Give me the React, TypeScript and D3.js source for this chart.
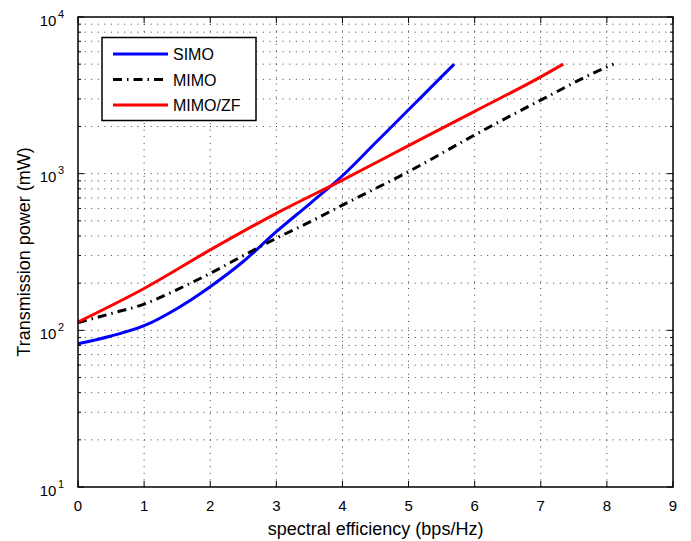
import React from "react";
import * as d3 from "d3";

const simoX = [0, 0.5, 1, 1.5, 2, 2.5, 3, 3.5, 4, 4.5, 5, 5.5, 5.69];
const simoY = [82, 92, 107, 138, 190, 275, 426, 640, 970, 1575, 2557, 4160, 5000];
const mimoX = [0, 0.5, 1, 1.5, 2, 2.5, 3, 3.5, 4, 5, 6, 7, 8, 8.1];
const mimoY = [112, 128, 147, 182, 231, 300, 387, 490, 630, 1030, 1766, 2950, 4800, 5000];
const zfX = [0, 1, 2, 3, 4, 5, 6, 7, 7.34];
const zfY = [113, 185, 326, 558, 910, 1510, 2500, 4150, 5000];

const xTicks = [0, 1, 2, 3, 4, 5, 6, 7, 8, 9];
const yExps = [1, 2, 3, 4];
const legendLabels = ["SIMO", "MIMO", "MIMO/ZF"];

const W = 691, H = 541;
const L = 78, R = 673, T = 17, B = 487;
const FONT = "'Liberation Sans', Arial, Helvetica, sans-serif";

export default function App() {
  const x = d3.scaleLinear().domain([0, 9]).range([L, R]);
  const y = d3.scaleLog().domain([10, 10000]).range([B, T]);

  const line = d3
    .line<[number, number]>()
    .x((d) => x(d[0]))
    .y((d) => y(d[1]))
    .curve(d3.curveMonotoneX);

  const zip = (a: number[], b: number[]) => a.map((v, i) => [v, b[i]] as [number, number]);

  const minorY: number[] = [];
  for (let e = 1; e < 4; e++) for (let m = 1; m <= 9; m++) minorY.push(m * Math.pow(10, e));
  minorY.push(10000);

  const series = [
    { label: legendLabels[0], d: zip(simoX, simoY), color: "#0000ff", dash: "" },
    { label: legendLabels[1], d: zip(mimoX, mimoY), color: "#000000", dash: "9,5,1.5,5" },
    { label: legendLabels[2], d: zip(zfX, zfY), color: "#ff0000", dash: "" },
  ];

  const dotted = { stroke: "#000", strokeWidth: 1, strokeDasharray: "1,5.6", opacity: 0.75 };

  return (
    <svg width={W} height={H} style={{ position: "absolute", left: 0, top: 0, background: "#fff" }}>
      <rect x={0} y={0} width={W} height={H} fill="#fff" />
      {/* grid */}
      {xTicks.slice(1, -1).map((t) => (
        <line key={"gx" + t} x1={x(t)} x2={x(t)} y1={B} y2={T} {...dotted} />
      ))}
      {minorY.filter((v) => v > 10 && v < 10000).map((v) => (
        <line key={"gy" + v} x1={L} x2={R} y1={y(v)} y2={y(v)} {...dotted} />
      ))}
      {/* ticks */}
      {xTicks.map((t) => (
        <g key={"tx" + t}>
          <line x1={x(t)} x2={x(t)} y1={B} y2={B - 6} stroke="#000" strokeWidth={1} />
          <line x1={x(t)} x2={x(t)} y1={T} y2={T + 6} stroke="#000" strokeWidth={1} />
          <text x={x(t)} y={511} textAnchor="middle" fontFamily={FONT} fontSize={15}>
            {t}
          </text>
        </g>
      ))}
      {minorY.map((v) => {
        const major = Math.abs(Math.log10(v) - Math.round(Math.log10(v))) < 1e-9;
        const len = major ? 6 : 3;
        return (
          <g key={"ty" + v}>
            <line x1={L} x2={L + len} y1={y(v)} y2={y(v)} stroke="#000" strokeWidth={1} />
            <line x1={R} x2={R - len} y1={y(v)} y2={y(v)} stroke="#000" strokeWidth={1} />
          </g>
        );
      })}
      {yExps.map((e) => (
        <text key={"yl" + e} x={64} y={y(Math.pow(10, e)) + 8.5} textAnchor="end" fontFamily={FONT} fontSize={15}>
          10
          <tspan dx={1.5} dy={-8} fontSize={11}>
            {e}
          </tspan>
        </text>
      ))}
      {/* series */}
      {series.map((s) => (
        <path
          key={s.label}
          d={line(s.d) || ""}
          fill="none"
          stroke={s.color}
          strokeWidth={3}
          strokeDasharray={s.dash || undefined}
        />
      ))}
      {/* box */}
      <rect x={L} y={T} width={R - L} height={B - T} fill="none" stroke="#000" strokeWidth={1.5} />
      {/* legend */}
      <rect x={102} y={37.5} width={154} height={83} fill="#fff" stroke="#000" strokeWidth={1.5} />
      {series.map((s, i) => {
        const cy = 54 + i * 25.5;
        return (
          <g key={"lg" + s.label}>
            <line x1={113} x2={168} y1={cy} y2={cy} stroke={s.color} strokeWidth={3} strokeDasharray={s.dash || undefined} />
            <text x={173} y={cy + 6} fontFamily={FONT} fontSize={16}>
              {s.label}
            </text>
          </g>
        );
      })}
      {/* axis labels */}
      <text x={(L + R) / 2} y={535} textAnchor="middle" fontFamily={FONT} fontSize={18}>
        spectral efficiency (bps/Hz)
      </text>
      <text
        transform={`translate(30,${(T + B) / 2}) rotate(-90)`}
        textAnchor="middle"
        fontFamily={FONT}
        fontSize={18}
      >
        Transmission power (mW)
      </text>
    </svg>
  );
}
